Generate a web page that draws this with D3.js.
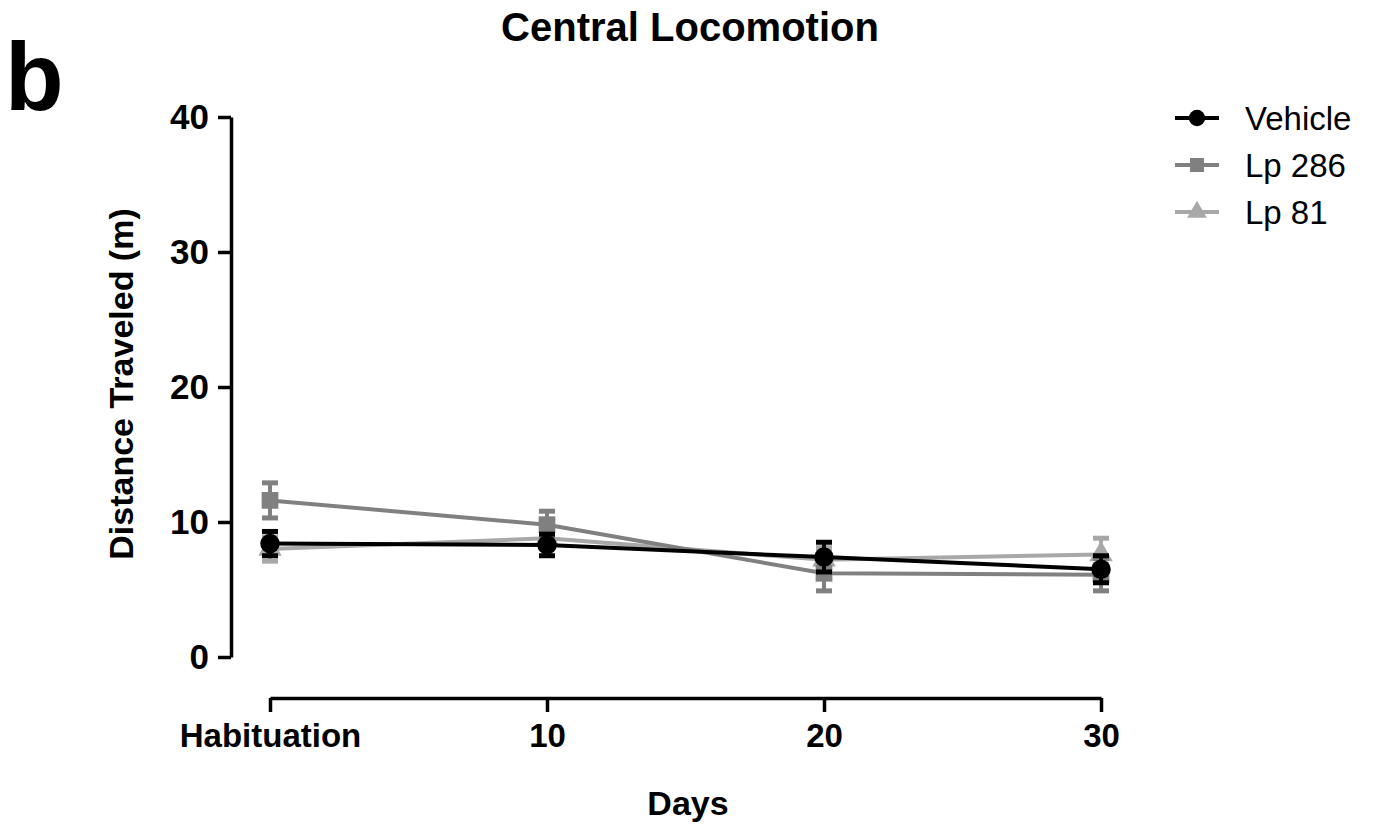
<!DOCTYPE html>
<html lang="en">
<head>
    <meta charset="UTF-8">
    <script src="https://d3js.org/d3.v7.min.js"></script>
    <style>
        body { margin: 0; background: #fff; }
        text { font-family: "Liberation Sans", Arial, sans-serif; }
    </style>
</head>
<body>
<script>
    const width = 1376;
    const height = 824;

    const days = ["Habituation", "10", "20", "30"];
    const yTicks = [0, 10, 20, 30, 40];

    const vehicleMean = [8.4, 8.3, 7.4, 6.5];
    const vehicleErr = [0.9, 0.8, 1.1, 1.0];
    const lp286Mean = [11.6, 9.8, 6.2, 6.1];
    const lp286Err = [1.3, 1.0, 1.3, 1.2];
    const lp81Mean = [8.0, 8.8, 7.2, 7.6];
    const lp81Err = [0.9, 0.7, 0.9, 1.2];

    const series = [
        {name: "Vehicle", mean: vehicleMean, err: vehicleErr, color: "#000000", shape: d3.symbolCircle, size: 300},
        {name: "Lp 286", mean: lp286Mean, err: lp286Err, color: "#808080", shape: d3.symbolSquare, size: 280},
        {name: "Lp 81", mean: lp81Mean, err: lp81Err, color: "#a8a8a8", shape: d3.symbolTriangle, size: 240}
    ];

    const x = d3.scalePoint().domain(days).range([270, 1101]);
    const y = d3.scaleLinear().domain([0, 40]).range([657, 117]);

    const svg = d3.select("body").append("svg")
        .attr("width", width)
        .attr("height", height);

    // title and panel letter
    svg.append("text").attr("x", 690).attr("y", 41)
        .attr("text-anchor", "middle").attr("font-size", 40).attr("font-weight", "bold")
        .text("Central Locomotion");
    svg.append("text").attr("x", 5).attr("y", 110)
        .attr("font-size", 96).attr("font-weight", "bold")
        .text("b");

    // y axis
    const yAxis = svg.append("g").attr("transform", "translate(231,0)")
        .call(d3.axisLeft(y).tickValues(yTicks).tickSize(13).tickPadding(9).tickSizeOuter(0));
    yAxis.select(".domain").attr("stroke-width", 3.5);
    yAxis.selectAll(".tick line").attr("stroke-width", 3.5);
    yAxis.selectAll(".tick text").attr("font-size", 35).attr("font-weight", "bold")
        .attr("font-family", "Liberation Sans, Arial, sans-serif").attr("fill", "#000");

    // x axis
    const xAxis = svg.append("g").attr("transform", "translate(0,698)")
        .call(d3.axisBottom(x).tickSize(14).tickPadding(12).tickSizeOuter(0));
    xAxis.select(".domain").attr("stroke-width", 3.5);
    xAxis.selectAll(".tick line").attr("stroke-width", 3.5);
    xAxis.selectAll(".tick text").attr("font-size", 33).attr("font-weight", "bold")
        .attr("font-family", "Liberation Sans, Arial, sans-serif").attr("fill", "#000");

    // axis titles
    svg.append("text").attr("x", 688).attr("y", 815)
        .attr("text-anchor", "middle").attr("font-size", 34).attr("font-weight", "bold")
        .text("Days");
    svg.append("text").attr("transform", "translate(133,384) rotate(-90)")
        .attr("text-anchor", "middle").attr("font-size", 34).attr("font-weight", "bold")
        .text("Distance Traveled (m)");

    const line = d3.line().x((d, i) => x(days[i])).y(d => y(d));

    // draw light series first so Vehicle sits on top
    series.slice().reverse().forEach(s => {
        const g = svg.append("g");
        g.append("path").datum(s.mean)
            .attr("d", line).attr("fill", "none")
            .attr("stroke", s.color).attr("stroke-width", 4);

        const eb = g.selectAll(".eb").data(s.mean).enter().append("g")
            .attr("stroke", s.color).attr("stroke-width", 4);
        eb.append("line")
            .attr("x1", (d, i) => x(days[i])).attr("x2", (d, i) => x(days[i]))
            .attr("y1", (d, i) => y(d - s.err[i])).attr("y2", (d, i) => y(d + s.err[i]));
        [-1, 1].forEach(sign => {
            eb.append("line")
                .attr("x1", (d, i) => x(days[i]) - 8).attr("x2", (d, i) => x(days[i]) + 8)
                .attr("y1", (d, i) => y(d + sign * s.err[i])).attr("y2", (d, i) => y(d + sign * s.err[i]))
                .attr("stroke-width", 5);
        });

        g.selectAll(".pt").data(s.mean).enter().append("path")
            .attr("d", d3.symbol().type(s.shape).size(s.size))
            .attr("transform", (d, i) => `translate(${x(days[i])},${y(d)})`)
            .attr("fill", s.color);
    });

    // legend
    const legend = svg.append("g").attr("transform", "translate(1175,118)");
    series.forEach((s, i) => {
        const row = legend.append("g").attr("transform", `translate(0,${i * 47})`);
        row.append("line").attr("x1", 0).attr("x2", 44)
            .attr("stroke", s.color).attr("stroke-width", 4);
        row.append("path").attr("transform", "translate(22,0)")
            .attr("d", d3.symbol().type(s.shape).size(s.size * 0.7))
            .attr("fill", s.color);
        row.append("text").attr("x", 70).attr("y", 12)
            .attr("font-size", 33).text(s.name);
    });
</script>
</body>
</html>
